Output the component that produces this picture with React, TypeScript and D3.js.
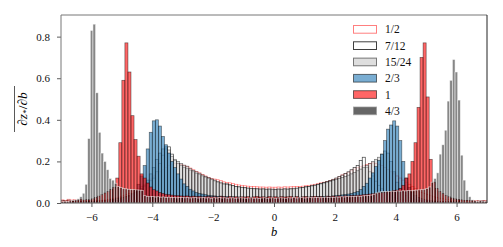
import { useEffect, useRef } from "react";
import * as d3 from "d3";

// histogram bins: all series start at -7, the 4/3 one uses finer bins
const binStart = -7;
const binWidth = 0.1;
const binWidthFine = 0.0875;

const labels = ["1/2", "7/12", "15/24", "2/3", "1", "4/3"];

// bin heights, one row per unit of b (10 bins of 0.1)
const half = [
  0.015, 0.012, 0.018, 0.014, 0.016, 0.013, 0.017, 0.012, 0.01, 0.011,
  0.01, 0.012, 0.011, 0.013, 0.015, 0.017, 0.02, 0.023, 0.027, 0.03,
  0.035, 0.04, 0.046, 0.053, 0.06, 0.07, 0.08, 0.09, 0.1, 0.115,
  0.13, 0.14, 0.15, 0.16, 0.17, 0.18, 0.185, 0.19, 0.188, 0.185,
  0.18, 0.175, 0.168, 0.16, 0.152, 0.145, 0.137, 0.13, 0.123, 0.117,
  0.115, 0.112, 0.108, 0.102, 0.098, 0.097, 0.094, 0.09, 0.087, 0.085,
  0.083, 0.081, 0.08, 0.079, 0.078, 0.077, 0.077, 0.076, 0.077, 0.076,
  0.076, 0.077, 0.076, 0.078, 0.077, 0.078, 0.079, 0.08, 0.08, 0.081,
  0.083, 0.085, 0.087, 0.09, 0.093, 0.097, 0.1, 0.104, 0.108, 0.113,
  0.118, 0.125, 0.135, 0.14, 0.147, 0.155, 0.163, 0.17, 0.175, 0.18,
  0.185, 0.19, 0.193, 0.19, 0.185, 0.18, 0.17, 0.16, 0.15, 0.14,
  0.13, 0.12, 0.11, 0.1, 0.09, 0.08, 0.07, 0.06, 0.05, 0.045,
  0.04, 0.035, 0.03, 0.026, 0.023, 0.02, 0.018, 0.016, 0.014, 0.013,
  0.012, 0.013, 0.011, 0.012, 0.01, 0.011, 0.012, 0.01, 0.011, 0.012,
];

const sevenTwelfths = [
  0.004, 0.005, 0.004, 0.006, 0.005, 0.006, 0.007, 0.006, 0.008, 0.007,
  0.008, 0.009, 0.01, 0.011, 0.012, 0.014, 0.016, 0.018, 0.021, 0.024,
  0.028, 0.032, 0.037, 0.043, 0.05, 0.058, 0.068, 0.08, 0.093, 0.107,
  0.12, 0.15, 0.19, 0.23, 0.26, 0.27, 0.235, 0.205, 0.19, 0.18,
  0.17, 0.165, 0.158, 0.15, 0.143, 0.136, 0.13, 0.124, 0.118, 0.112,
  0.106, 0.1, 0.095, 0.09, 0.092, 0.087, 0.083, 0.079, 0.077, 0.075,
  0.073, 0.071, 0.07, 0.068, 0.067, 0.066, 0.066, 0.065, 0.065, 0.064,
  0.064, 0.065, 0.064, 0.066, 0.065, 0.067, 0.068, 0.07, 0.072, 0.075,
  0.078, 0.08, 0.083, 0.086, 0.09, 0.094, 0.098, 0.103, 0.108, 0.114,
  0.12, 0.127, 0.134, 0.142, 0.15, 0.16, 0.17, 0.18, 0.205, 0.22,
  0.17, 0.15, 0.13, 0.105, 0.085, 0.068, 0.054, 0.043, 0.034, 0.027,
  0.022, 0.018, 0.015, 0.013, 0.011, 0.01, 0.009, 0.008, 0.007, 0.007,
  0.006, 0.006, 0.005, 0.006, 0.005, 0.005, 0.004, 0.005, 0.004, 0.004,
  0.004, 0.003, 0.004, 0.003, 0.003, 0.004, 0.003, 0.003, 0.002, 0.003,
];

const fifteenTwentyFourths = [
  0.003, 0.004, 0.003, 0.005, 0.004, 0.005, 0.006, 0.005, 0.007, 0.006,
  0.007, 0.008, 0.009, 0.01, 0.011, 0.012, 0.014, 0.016, 0.019, 0.022,
  0.026, 0.03, 0.035, 0.041, 0.048, 0.057, 0.068, 0.085, 0.11, 0.14,
  0.17, 0.21, 0.24, 0.26, 0.27, 0.255, 0.225, 0.21, 0.2, 0.19,
  0.182, 0.177, 0.165, 0.157, 0.15, 0.143, 0.135, 0.128, 0.122, 0.116,
  0.11, 0.104, 0.1, 0.095, 0.09, 0.087, 0.084, 0.08, 0.078, 0.076,
  0.074, 0.072, 0.071, 0.07, 0.069, 0.068, 0.069, 0.067, 0.068, 0.067,
  0.066, 0.068, 0.067, 0.069, 0.068, 0.07, 0.071, 0.072, 0.074, 0.075,
  0.077, 0.079, 0.082, 0.085, 0.088, 0.092, 0.096, 0.1, 0.104, 0.108,
  0.113, 0.118, 0.123, 0.128, 0.134, 0.14, 0.147, 0.155, 0.163, 0.172,
  0.18, 0.19, 0.2, 0.21, 0.22, 0.235, 0.25, 0.24, 0.2, 0.15,
  0.1, 0.07, 0.05, 0.035, 0.025, 0.02, 0.016, 0.013, 0.011, 0.01,
  0.009, 0.008, 0.007, 0.007, 0.006, 0.006, 0.005, 0.005, 0.004, 0.004,
  0.004, 0.003, 0.004, 0.003, 0.003, 0.003, 0.002, 0.003, 0.002, 0.002,
];

const twoThirds = [
  0.004, 0.003, 0.005, 0.004, 0.006, 0.005, 0.007, 0.006, 0.008, 0.007,
  0.006, 0.007, 0.006, 0.008, 0.009, 0.008, 0.01, 0.011, 0.013, 0.016,
  0.02, 0.025, 0.032, 0.045, 0.062, 0.09, 0.13, 0.18, 0.26, 0.34,
  0.395, 0.4, 0.37, 0.32, 0.28, 0.24, 0.2, 0.17, 0.14, 0.115,
  0.092, 0.08, 0.066, 0.058, 0.05, 0.046, 0.043, 0.04, 0.037, 0.035,
  0.034, 0.032, 0.033, 0.03, 0.031, 0.029, 0.03, 0.028, 0.029, 0.027,
  0.028, 0.026, 0.027, 0.025, 0.027, 0.026, 0.025, 0.027, 0.026, 0.025,
  0.026, 0.025, 0.027, 0.026, 0.025, 0.027, 0.026, 0.028, 0.027, 0.028,
  0.029, 0.028, 0.03, 0.029, 0.031, 0.03, 0.032, 0.033, 0.032, 0.034,
  0.036, 0.037, 0.039, 0.041, 0.043, 0.046, 0.05, 0.055, 0.065, 0.08,
  0.095, 0.12, 0.145, 0.175, 0.205, 0.235, 0.3, 0.355, 0.375, 0.395,
  0.37, 0.3, 0.2, 0.12, 0.075, 0.05, 0.036, 0.027, 0.021, 0.017,
  0.014, 0.012, 0.01, 0.009, 0.008, 0.007, 0.007, 0.006, 0.006, 0.005,
  0.005, 0.004, 0.005, 0.004, 0.003, 0.004, 0.003, 0.003, 0.01, 0.004,
];

const one = [
  0.012, 0.01, 0.014, 0.011, 0.013, 0.012, 0.015, 0.014, 0.016, 0.015,
  0.02, 0.026, 0.033, 0.04, 0.048, 0.055, 0.065, 0.075, 0.12, 0.29,
  0.59, 0.77, 0.63, 0.42, 0.305, 0.225, 0.14, 0.12, 0.096, 0.077,
  0.064, 0.058, 0.05, 0.046, 0.042, 0.04, 0.038, 0.036, 0.035, 0.034,
  0.033, 0.034, 0.032, 0.033, 0.031, 0.032, 0.03, 0.031, 0.032, 0.03,
  0.031, 0.029, 0.032, 0.03, 0.028, 0.031, 0.029, 0.03, 0.028, 0.03,
  0.029, 0.031, 0.028, 0.03, 0.032, 0.029, 0.03, 0.028, 0.031, 0.029,
  0.03, 0.028, 0.031, 0.029, 0.03, 0.032, 0.029, 0.031, 0.028, 0.03,
  0.031, 0.029, 0.03, 0.032, 0.03, 0.031, 0.029, 0.032, 0.031, 0.033,
  0.032, 0.034, 0.033, 0.035, 0.034, 0.036, 0.035, 0.037, 0.038, 0.04,
  0.041, 0.043, 0.045, 0.047, 0.049, 0.05, 0.052, 0.055, 0.057, 0.06,
  0.062, 0.07, 0.085, 0.12, 0.14, 0.2, 0.29, 0.46, 0.7, 0.77,
  0.51, 0.21, 0.1, 0.07, 0.055, 0.045, 0.036, 0.03, 0.024, 0.02,
  0.017, 0.015, 0.013, 0.012, 0.011, 0.01, 0.009, 0.01, 0.008, 0.009,
];

// 160 bins of 0.0875
const fourThirds = [
  0.006, 0.008, 0.007, 0.01, 0.012, 0.015, 0.02, 0.03, 0.047, 0.09,
  0.31, 0.83, 0.86, 0.53, 0.34, 0.24, 0.2, 0.16, 0.118, 0.11,
  0.095, 0.08, 0.075, 0.07, 0.068, 0.066, 0.065, 0.064, 0.063, 0.062,
  0.06, 0.035, 0.032, 0.03, 0.031, 0.029, 0.03, 0.028, 0.029, 0.027,
  0.028, 0.026, 0.027, 0.025, 0.026, 0.027, 0.025, 0.026, 0.024, 0.025,
  0.026, 0.024, 0.025, 0.026, 0.024, 0.025, 0.023, 0.025, 0.024, 0.026,
  0.024, 0.025, 0.023, 0.024, 0.025, 0.023, 0.024, 0.025, 0.024, 0.023,
  0.024, 0.025, 0.023, 0.024, 0.022, 0.024, 0.025, 0.023, 0.024, 0.025,
  0.023, 0.024, 0.025, 0.024, 0.023, 0.025, 0.024, 0.026, 0.024, 0.025,
  0.026, 0.024, 0.025, 0.027, 0.025, 0.026, 0.027, 0.025, 0.027, 0.028,
  0.026, 0.028, 0.027, 0.029, 0.028, 0.03, 0.029, 0.031, 0.03, 0.032,
  0.031, 0.033, 0.032, 0.034, 0.035, 0.036, 0.038, 0.042, 0.048, 0.052,
  0.054, 0.055, 0.056, 0.055, 0.057, 0.056, 0.058, 0.057, 0.059, 0.058,
  0.06, 0.059, 0.061, 0.062, 0.063, 0.064, 0.066, 0.07, 0.077, 0.1,
  0.118, 0.145, 0.235, 0.28, 0.35, 0.49, 0.59, 0.69, 0.63, 0.495,
  0.23, 0.11, 0.06, 0.03, 0.015, 0.01, 0.008, 0.01, 0.006, 0.007,
];

const xTicks = [-6, -4, -2, 0, 2, 4, 6];
const yTicks = [0, 0.2, 0.4, 0.6, 0.8];

const seriesValues = [half, sevenTwelfths, fifteenTwentyFourths, twoThirds, one, fourThirds];
const seriesWidths = [binWidth, binWidth, binWidth, binWidth, binWidth, binWidthFine];

const styles = [
  { fill: "#ffffff", fillOpacity: 0.6, stroke: "#ff0000", strokeOpacity: 0.5 },
  { fill: "#ffffff", fillOpacity: 0.6, stroke: "#000000", strokeOpacity: 0.75 },
  { fill: "#c8c8c8", fillOpacity: 0.6, stroke: "#000000", strokeOpacity: 0.5 },
  { fill: "#1f77b4", fillOpacity: 0.6, stroke: "#000000", strokeOpacity: 0.55 },
  { fill: "#ff0000", fillOpacity: 0.6, stroke: "#000000", strokeOpacity: 0.55 },
  { fill: "#000000", fillOpacity: 0.47, stroke: "#ffffff", strokeOpacity: 0.7 },
];

const FONT = "'Liberation Serif', 'DejaVu Serif', serif";

export default function App() {
  const svgRef = useRef<SVGSVGElement | null>(null);

  useEffect(() => {
    const w = 503;
    const h = 247;
    const m = { left: 61, right: 16, top: 15, bottom: 44 };

    const svg = d3.select(svgRef.current);
    svg.selectAll("*").remove();

    const x = d3.scaleLinear().domain([-7, 7]).range([m.left, w - m.right]);
    const y = d3.scaleLinear().domain([0, 0.904]).range([h - m.bottom, m.top]);

    svg
      .append("defs")
      .append("clipPath")
      .attr("id", "plot-area")
      .append("rect")
      .attr("x", m.left)
      .attr("y", m.top)
      .attr("width", w - m.left - m.right)
      .attr("height", h - m.top - m.bottom);

    const plot = svg.append("g").attr("clip-path", "url(#plot-area)");

    // histograms, drawn in legend order so 4/3 ends up on top
    seriesValues.forEach((vals, s) => {
      const bw = seriesWidths[s];
      const st = styles[s];
      plot
        .append("g")
        .selectAll("rect")
        .data(vals)
        .join("rect")
        .attr("x", (_, i) => x(binStart + i * bw))
        .attr("width", (_, i) => x(binStart + (i + 1) * bw) - x(binStart + i * bw))
        .attr("y", (d) => y(d))
        .attr("height", (d) => y(0) - y(d))
        .attr("fill", st.fill)
        .attr("fill-opacity", st.fillOpacity)
        .attr("stroke", st.stroke)
        .attr("stroke-opacity", st.strokeOpacity)
        .attr("stroke-width", 0.7);
    });

    // axes
    const xAxis = d3
      .axisBottom(x)
      .tickValues(xTicks)
      .tickSize(4)
      .tickPadding(6)
      .tickFormat((d) => d3.format("d")(d as number).replace("-", "\u2212"));
    const yAxis = d3
      .axisLeft(y)
      .tickValues(yTicks)
      .tickSize(4)
      .tickPadding(7)
      .tickFormat((d) => d3.format(".1f")(d as number));

    const gx = svg
      .append("g")
      .attr("transform", `translate(0, ${h - m.bottom})`)
      .call(xAxis);
    const gy = svg.append("g").attr("transform", `translate(${m.left}, 0)`).call(yAxis);
    [gx, gy].forEach((g) => {
      g.attr("font-family", FONT).attr("font-size", 11);
      g.select(".domain").remove();
      g.selectAll("line").attr("stroke", "#333").attr("stroke-width", 0.8);
      g.selectAll("text").attr("fill", "#111");
    });

    // spines
    const x0 = m.left;
    const x1 = w - m.right;
    const y0 = m.top;
    const y1 = h - m.bottom;
    const spines = [
      { a: [x0, y0, x1, y0], c: "#777" },
      { a: [x0, y0, x0, y1], c: "#777" },
      { a: [x0, y1, x1, y1], c: "#555" },
      { a: [x1, y0, x1, y1], c: "#222" },
    ];
    spines.forEach((s) => {
      svg
        .append("line")
        .attr("x1", s.a[0])
        .attr("y1", s.a[1])
        .attr("x2", s.a[2])
        .attr("y2", s.a[3])
        .attr("stroke", s.c)
        .attr("stroke-width", 1);
    });

    // axis labels
    svg
      .append("text")
      .attr("x", (x0 + x1) / 2)
      .attr("y", 236)
      .attr("text-anchor", "middle")
      .attr("font-family", FONT)
      .attr("font-style", "italic")
      .attr("font-size", 12.5)
      .text("b");

    const yl = svg
      .append("g")
      .attr("transform", `translate(26.5, ${(y0 + y1) / 2}) rotate(-90)`);
    const t = yl
      .append("text")
      .attr("text-anchor", "middle")
      .attr("font-family", FONT)
      .attr("font-size", 13.5);
    t.append("tspan").text("\u2202");
    t.append("tspan").attr("font-style", "italic").text("z");
    t.append("tspan").attr("dy", 2.5).attr("font-size", 9).text("*");
    t.append("tspan").attr("dy", -2.5).text("/\u2202");
    t.append("tspan").attr("font-style", "italic").text("b");
    yl.append("line")
      .attr("x1", -23)
      .attr("x2", 23)
      .attr("y1", -12)
      .attr("y2", -12)
      .attr("stroke", "#111")
      .attr("stroke-width", 0.7);

    // legend
    const lg = svg.append("g").attr("transform", "translate(353.5, 25.5)");
    labels.forEach((lab, i) => {
      const st = styles[i];
      const row = lg.append("g").attr("transform", `translate(0, ${i * 16.3})`);
      row
        .append("rect")
        .attr("width", 23)
        .attr("height", 7.7)
        .attr("fill", st.fill)
        .attr("fill-opacity", i === 5 ? 0.6 : st.fillOpacity)
        .attr("stroke", st.stroke === "#ffffff" ? "#999" : st.stroke)
        .attr("stroke-opacity", st.strokeOpacity)
        .attr("stroke-width", 1);
      row
        .append("text")
        .attr("x", 31.5)
        .attr("y", 7.9)
        .attr("font-family", FONT)
        .attr("font-size", 11.5)
        .attr("fill", "#111")
        .text(lab);
    });
  }, []);

  return (
    <svg
      ref={svgRef}
      width={503}
      height={247}
      fontFamily={FONT}
      style={{ position: "absolute", left: 0, top: 0, background: "#fff" }}
    ></svg>
  );
}
